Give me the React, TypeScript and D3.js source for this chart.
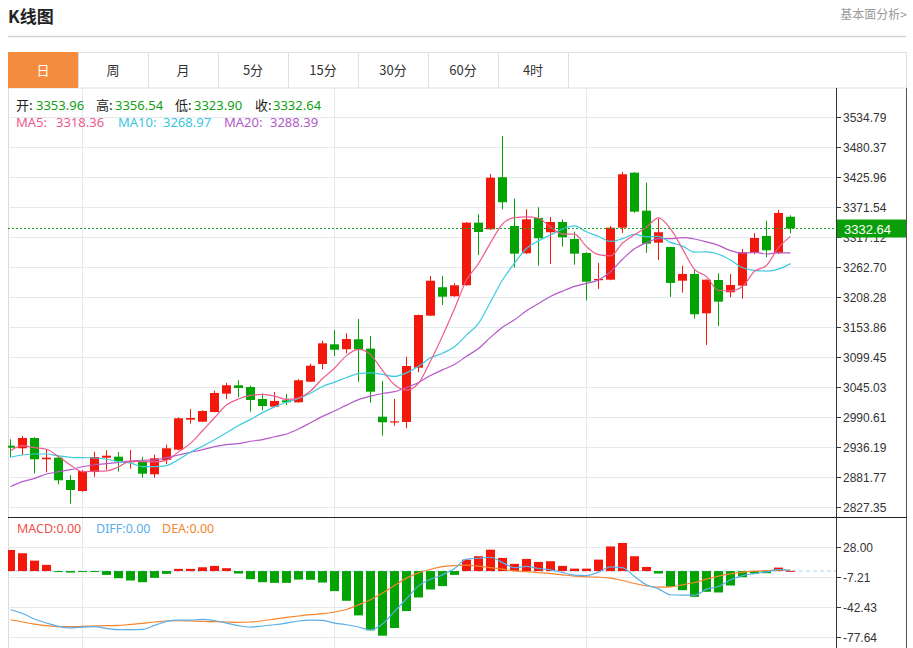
import { useEffect, useRef } from "react";
import * as d3 from "d3";

// daily candles (66 days)
const opens = [
  2939.0, 2934.3, 2953.0, 2914.4, 2917.3, 2876.8, 2856.9, 2891.3, 2917.3, 2919.1,
  2908.9, 2910.0, 2887.2, 2913.1, 2931.8, 2986.2, 2982.5, 3000.1, 3033.3, 3048.5,
  3045.4, 3023.7, 3009.7, 3021.3, 3017.7, 3055.0, 3087.1, 3122.8, 3113.8, 3131.9,
  3114.9, 2991.6, 2981.4, 2982.0, 3080.4, 3174.7, 3226.2, 3209.9, 3229.8, 3343.3,
  3331.3, 3425.6, 3337.3, 3287.8, 3351.8, 3325.9, 3344.5, 3313.7, 3288.3, 3238.9,
  3239.9, 3334.2, 3433.9, 3365.0, 3307.0, 3299.2, 3238.1, 3250.3, 3179.0, 3239.4,
  3217.1, 3229.1, 3289.6, 3319.2, 3287.8, 3353.96,
];
const highs = [
  2950.6, 2956.6, 2954.2, 2932.5, 2921.6, 2885.4, 2894.9, 2928.1, 2930.7, 2927.6,
  2931.2, 2919.1, 2922.7, 2940.8, 2990.1, 3005.5, 3003.2, 3038.7, 3052.7, 3057.6,
  3047.8, 3033.3, 3036.4, 3032.7, 3059.4, 3087.7, 3129.4, 3148.8, 3142.8, 3168.7,
  3137.9, 3056.3, 3023.7, 3100.4, 3176.5, 3246.7, 3246.7, 3233.4, 3344.0, 3358.5,
  3431.6, 3500.4, 3386.8, 3367.6, 3371.2, 3353.6, 3349.4, 3327.0, 3289.6, 3270.2,
  3337.3, 3435.2, 3434.5, 3415.8, 3350.5, 3299.5, 3265.3, 3257.5, 3240.5, 3251.5,
  3250.3, 3295.6, 3324.6, 3346.9, 3366.3, 3356.54,
];
const lows = [
  2918.0, 2922.2, 2889.0, 2890.8, 2869.0, 2833.9, 2855.5, 2882.8, 2895.5, 2891.9,
  2897.3, 2881.0, 2881.0, 2905.8, 2931.0, 2978.9, 2982.0, 2999.5, 3023.7, 3026.8,
  3000.7, 3003.2, 3008.6, 3012.8, 3017.0, 3054.5, 3077.5, 3101.6, 3106.5, 3055.0,
  3017.0, 2957.1, 2975.3, 2970.6, 3072.1, 3174.0, 3194.1, 3209.0, 3229.0, 3284.7,
  3330.0, 3367.6, 3261.7, 3287.0, 3265.3, 3268.4, 3299.8, 3267.1, 3202.6, 3223.1,
  3238.9, 3324.6, 3361.4, 3288.9, 3275.7, 3208.6, 3216.4, 3169.2, 3121.6, 3156.0,
  3208.0, 3205.5, 3286.0, 3280.5, 3286.5, 3323.9,
];
const closes = [
  2935.4, 2953.0, 2914.4, 2917.3, 2876.3, 2858.7, 2893.1, 2918.5, 2920.9, 2911.3,
  2911.3, 2888.3, 2916.2, 2934.3, 2988.7, 2989.2, 3001.9, 3034.6, 3048.5, 3043.6,
  3021.9, 3011.0, 3020.1, 3017.7, 3057.6, 3084.0, 3124.6, 3113.0, 3132.4, 3113.8,
  3036.9, 2981.4, 2983.2, 3083.5, 3175.9, 3238.1, 3209.1, 3229.8, 3343.3, 3326.4,
  3424.8, 3380.3, 3287.1, 3349.4, 3315.0, 3344.5, 3316.8, 3287.1, 3236.3, 3241.2,
  3334.2, 3431.0, 3363.2, 3305.2, 3325.9, 3234.0, 3250.3, 3177.2, 3239.9, 3200.1,
  3230.3, 3289.6, 3315.5, 3293.2, 3360.9, 3332.64,
];

const ma5 = [
  2930.0, 2939.0, 2935.4, 2932.5, 2919.3, 2903.9, 2892.0, 2892.8, 2893.5, 2900.5,
  2911.0, 2910.1, 2909.6, 2912.3, 2927.8, 2943.3, 2966.1, 2989.7, 3012.6, 3023.6,
  3030.1, 3031.9, 3029.0, 3022.9, 3025.7, 3038.1, 3060.8, 3079.4, 3102.3, 3113.6,
  3104.1, 3075.5, 3049.5, 3039.8, 3052.2, 3092.4, 3138.0, 3187.3, 3239.2, 3269.3,
  3306.7, 3340.9, 3352.4, 3353.6, 3351.3, 3335.3, 3322.6, 3322.6, 3299.9, 3285.2,
  3283.1, 3306.0, 3321.2, 3335.0, 3351.9, 3331.9, 3295.7, 3258.5, 3245.5, 3220.3,
  3219.6, 3227.4, 3255.1, 3265.7, 3297.9, 3318.36,
];
const ma10 = [
  2918.0, 2922.2, 2924.0, 2924.0, 2920.4, 2918.0, 2917.3, 2916.7, 2914.4, 2909.9,
  2907.5, 2901.0, 2901.2, 2902.9, 2914.1, 2927.2, 2938.1, 2949.7, 2962.4, 2975.7,
  2986.7, 2999.0, 3009.4, 3017.7, 3024.6, 3034.1, 3046.4, 3054.2, 3062.6, 3069.6,
  3071.1, 3068.2, 3064.5, 3071.0, 3082.9, 3098.3, 3106.7, 3118.4, 3139.5, 3160.8,
  3199.6, 3239.4, 3269.8, 3296.4, 3310.3, 3321.0, 3331.7, 3337.5, 3326.8, 3318.3,
  3309.2, 3314.3, 3321.9, 3317.5, 3318.5, 3307.5, 3300.8, 3289.9, 3290.2, 3286.1,
  3275.7, 3261.6, 3256.8, 3255.6, 3259.1, 3268.97,
];
const ma20 = [
  2864.7, 2873.8, 2879.9, 2887.7, 2891.9, 2895.5, 2900.9, 2904.5, 2906.4, 2908.9,
  2911.3, 2912.6, 2913.1, 2917.3, 2922.2, 2927.1, 2931.8, 2937.2, 2940.8, 2942.8,
  2947.1, 2950.0, 2955.3, 2960.3, 2969.4, 2980.6, 2992.2, 3001.9, 3012.5, 3022.6,
  3028.9, 3033.6, 3036.9, 3044.4, 3053.7, 3066.2, 3076.5, 3086.3, 3101.0, 3115.2,
  3135.3, 3153.8, 3167.1, 3183.7, 3196.6, 3209.6, 3219.2, 3227.9, 3233.1, 3239.5,
  3254.4, 3276.9, 3295.9, 3306.9, 3314.4, 3314.2, 3316.3, 3313.7, 3308.5, 3302.2,
  3292.5, 3287.9, 3289.3, 3286.5, 3288.8, 3288.39,
];

const macdBars = [
  24.9, 21.0, 12.3, 7.3, -0.5, -1.8, -0.3, -0.5, -4.5, -8.4,
  -11.1, -13.1, -8.0, -3.3, 2.6, 2.6, 4.5, 6.1, 3.4, -2.9,
  -9.5, -13.1, -13.9, -13.9, -10.0, -10.3, -13.5, -23.6, -35.0, -52.2,
  -69.8, -76.1, -67.0, -47.1, -31.1, -21.7, -17.7, -4.5, 13.5, 17.5,
  25.2, 15.5, 8.5, 14.3, 10.8, 11.6, 6.1, 2.9, 2.9, 13.5,
  29.0, 33.1, 17.5, 4.9, -2.9, -18.5, -22.5, -30.3, -24.4, -25.2,
  -17.0, -7.2, -2.9, -2.5, 4.1, 0.3,
];
const diffLine = [
  -45.5, -49.9, -56.5, -61.2, -65.1, -67.0, -65.9, -65.5, -67.5, -69.0,
  -69.0, -68.6, -64.0, -59.3, -57.7, -57.7, -56.9, -58.5, -61.2, -64.3,
  -65.9, -64.7, -63.2, -61.2, -58.8, -57.7, -58.1, -61.2, -63.2, -65.9,
  -69.4, -62.4, -47.5, -32.6, -17.4, -9.5, -4.5, 3.0, 14.0, 15.1,
  16.3, 10.0, 4.0, 5.5, 3.0, 1.5, -1.8, -4.8, -5.3, -1.3,
  4.9, 4.1, -6.4, -16.2, -20.9, -27.9, -28.3, -28.3, -21.3, -18.2,
  -10.3, -5.3, -2.9, -0.9, 1.8, 0.6,
];
const deaLine = [
  -57.3, -60.0, -62.4, -64.3, -65.5, -65.5, -65.1, -64.7, -64.3, -64.0,
  -62.8, -61.6, -60.0, -58.8, -58.5, -58.8, -59.3, -59.6, -60.0, -60.4,
  -60.0, -58.5, -56.5, -54.6, -52.9, -51.4, -50.2, -48.2, -45.2, -39.7,
  -33.8, -25.9, -17.0, -8.3, -2.1, 2.2, 5.3, 6.5, 6.9, 5.8,
  4.1, 2.2, 0.2, -0.6, -1.8, -2.9, -4.5, -6.0, -6.8, -7.2,
  -8.3, -11.1, -14.6, -17.4, -18.9, -18.5, -16.2, -13.5, -9.5, -6.0,
  -3.3, -1.3, -0.1, 0.6, 1.4, 1.1,
];

const priceTicks = [
  3534.79, 3480.37, 3425.96, 3371.54, 3317.12, 3262.7, 3208.28,
  3153.86, 3099.45, 3045.03, 2990.61, 2936.19, 2881.77, 2827.35,
];
const macdTicks = [28.0, -7.21, -42.43, -77.64];
const monthStarts = [6, 27, 48];
const tabs = ["日", "周", "月", "5分", "15分", "30分", "60分", "4时"];

const UP = "#f2190c";
const DOWN = "#03a303";
const FONT = '"Noto Sans", "Noto Sans CJK SC", sans-serif';
const CJK = '"Noto Sans CJK SC", "Noto Sans", sans-serif';
const AXIS_FONT = '"Liberation Sans", Arial, sans-serif';

const LEFT = 8;
const RIGHT = 836;
const PRICE_TOP = 88;
const PRICE_BOTTOM = 517;
const MACD_BOTTOM = 648;

export default function App() {
  const svgRef = useRef<SVGSVGElement>(null);

  useEffect(() => {
    if (!svgRef.current) return;
    const svg = d3.select(svgRef.current);
    svg.selectAll("*").remove();

    const n = closes.length;
    const x = d3.scaleLinear().domain([0, n - 1]).range([10.5, 790.5]);
    const y = d3.scaleLinear().domain([2827.35, 3534.79]).range([507.3, 117]);
    const ym = d3.scaleLinear().domain([-77.64, 28.0]).range([637, 547.3]);

    const defs = svg.append("defs");
    defs.append("clipPath").attr("id", "clip-price")
      .append("rect").attr("x", LEFT).attr("y", PRICE_TOP)
      .attr("width", RIGHT - LEFT).attr("height", PRICE_BOTTOM - PRICE_TOP);
    defs.append("clipPath").attr("id", "clip-macd")
      .append("rect").attr("x", LEFT).attr("y", PRICE_BOTTOM)
      .attr("width", RIGHT - LEFT).attr("height", MACD_BOTTOM - PRICE_BOTTOM);

    // header
    svg.append("text").attr("x", 8).attr("y", 23).text("K线图")
      .attr("font-family", CJK).attr("font-size", 17).attr("font-weight", "bold").attr("fill", "#222");
    svg.append("text").attr("x", 907).attr("y", 19).attr("text-anchor", "end").text("基本面分析>")
      .attr("font-family", CJK).attr("font-size", 12).attr("fill", "#9a9a9a");
    svg.append("line").attr("x1", 8).attr("x2", 906).attr("y1", 36.5).attr("y2", 36.5)
      .attr("stroke", "#d2d2d2").attr("stroke-width", 1.5);

    // tabs
    const tabW = 70;
    svg.append("rect").attr("x", 8.5).attr("y", 52.5).attr("width", 898).attr("height", 35.5)
      .attr("fill", "#fff").attr("stroke", "#e0e0e0");
    tabs.forEach((t, i) => {
      const tx = 8 + i * tabW;
      if (i === 0) {
        svg.append("rect").attr("x", tx).attr("y", 52).attr("width", tabW).attr("height", 36)
          .attr("fill", "#f38c3e");
      }
      svg.append("line").attr("x1", tx + tabW + 0.5).attr("x2", tx + tabW + 0.5)
        .attr("y1", 52).attr("y2", 88).attr("stroke", "#e0e0e0");
      svg.append("text").attr("x", tx + tabW / 2).attr("y", 75).attr("text-anchor", "middle")
        .text(t).attr("font-family", CJK).attr("font-size", 13)
        .attr("fill", i === 0 ? "#fff" : "#333");
    });

    // frame
    svg.append("line").attr("x1", 8.5).attr("x2", 8.5).attr("y1", 88).attr("y2", MACD_BOTTOM)
      .attr("stroke", "#dcdcdc");
    svg.append("line").attr("x1", 906.5).attr("x2", 906.5).attr("y1", 88).attr("y2", MACD_BOTTOM)
      .attr("stroke", "#555");

    // grid
    const grid = svg.append("g").attr("stroke", "#e3e9ef").attr("stroke-width", 1);
    priceTicks.forEach((v) => {
      const yy = Math.round(y(v)) + 0.5;
      grid.append("line").attr("x1", LEFT).attr("x2", RIGHT).attr("y1", yy).attr("y2", yy);
    });
    macdTicks.forEach((v) => {
      const yy = Math.round(ym(v)) + 0.5;
      grid.append("line").attr("x1", LEFT).attr("x2", RIGHT).attr("y1", yy).attr("y2", yy);
    });
    monthStarts.forEach((i) => {
      grid.append("line").attr("x1", x(i)).attr("x2", x(i)).attr("y1", PRICE_TOP).attr("y2", MACD_BOTTOM);
    });

    // candles
    const cg = svg.append("g").attr("clip-path", "url(#clip-price)");
    closes.forEach((c, i) => {
      const o = opens[i];
      const col = c >= o ? UP : DOWN;
      cg.append("line").attr("x1", x(i)).attr("x2", x(i))
        .attr("y1", y(highs[i])).attr("y2", y(lows[i])).attr("stroke", col);
      const top = y(Math.max(o, c));
      const h = Math.max(1.2, Math.abs(y(o) - y(c)));
      cg.append("rect").attr("x", x(i) - 4.5).attr("y", top).attr("width", 9).attr("height", h)
        .attr("fill", col);
    });

    const maLine = d3.line<number>().x((_, i) => x(i)).y((d) => y(d)).curve(d3.curveMonotoneX);
    [
      { data: ma20, color: "#b659c9" },
      { data: ma10, color: "#3ccbdf" },
      { data: ma5, color: "#ee5d8d" },
    ].forEach((s) => {
      cg.append("path").datum(s.data).attr("d", maLine).attr("fill", "none")
        .attr("stroke", s.color).attr("stroke-width", 1.2);
    });

    const last = closes[n - 1];
    cg.append("line").attr("x1", LEFT).attr("x2", RIGHT).attr("y1", y(last)).attr("y2", y(last))
      .attr("stroke", "#1ba31b").attr("stroke-dasharray", "2,2");

    // MACD pane
    const mg = svg.append("g").attr("clip-path", "url(#clip-macd)");
    mg.append("line").attr("x1", LEFT).attr("x2", RIGHT).attr("y1", ym(0)).attr("y2", ym(0))
      .attr("stroke", "#a9d4f0").attr("stroke-dasharray", "4,3");
    macdBars.forEach((v, i) => {
      const y0 = ym(0);
      const y1 = ym(v);
      mg.append("rect").attr("x", x(i) - 4.5).attr("y", Math.min(y0, y1)).attr("width", 9)
        .attr("height", Math.max(1, Math.abs(y1 - y0))).attr("fill", v >= 0 ? UP : DOWN);
    });
    const mLine = d3.line<number>().x((_, i) => x(i)).y((d) => ym(d)).curve(d3.curveMonotoneX);
    mg.append("path").datum(deaLine).attr("d", mLine).attr("fill", "none")
      .attr("stroke", "#f5842f").attr("stroke-width", 1.2);
    mg.append("path").datum(diffLine).attr("d", mLine).attr("fill", "none")
      .attr("stroke", "#5aaeea").attr("stroke-width", 1.2);

    // axes
    svg.append("line").attr("x1", RIGHT + 0.5).attr("x2", RIGHT + 0.5).attr("y1", PRICE_TOP).attr("y2", MACD_BOTTOM)
      .attr("stroke", "#333");
    svg.append("line").attr("x1", LEFT).attr("x2", 907).attr("y1", PRICE_BOTTOM + 0.5).attr("y2", PRICE_BOTTOM + 0.5)
      .attr("stroke", "#222");
    const ax = svg.append("g").attr("font-family", AXIS_FONT).attr("font-size", 12).attr("fill", "#333");
    priceTicks.forEach((v) => {
      const yy = Math.round(y(v)) + 0.5;
      ax.append("line").attr("x1", RIGHT).attr("x2", RIGHT + 5).attr("y1", yy).attr("y2", yy).attr("stroke", "#333");
      ax.append("text").attr("x", RIGHT + 7).attr("y", yy + 4.5).text(v.toFixed(2));
    });
    macdTicks.forEach((v) => {
      const yy = Math.round(ym(v)) + 0.5;
      ax.append("line").attr("x1", RIGHT).attr("x2", RIGHT + 5).attr("y1", yy).attr("y2", yy).attr("stroke", "#333");
      ax.append("text").attr("x", RIGHT + 7).attr("y", yy + 4.5).text(v.toFixed(2));
    });

    // last price tag (covers the lower half of the 3317.12 label, as in the source)
    const ly = y(last);
    svg.append("rect").attr("x", RIGHT + 1).attr("y", ly - 9).attr("width", 69).attr("height", 18)
      .attr("fill", "#0a9f0a");
    svg.append("text").attr("x", RIGHT + 8).attr("y", ly + 5).text(last.toFixed(2))
      .attr("font-family", AXIS_FONT).attr("font-size", 13).attr("fill", "#fff");

    // legends
    const lg = svg.append("g").attr("font-family", FONT).attr("font-size", 13);
    const ohlc = [
      { label: "开:", value: opens[n - 1], lx: 16, vx: 36 },
      { label: "高:", value: highs[n - 1], lx: 96, vx: 115 },
      { label: "低:", value: lows[n - 1], lx: 175, vx: 194 },
      { label: "收:", value: last, lx: 255, vx: 273 },
    ];
    ohlc.forEach((d) => {
      lg.append("text").attr("x", d.lx).attr("y", 110).text(d.label).attr("fill", "#222")
        .attr("font-family", CJK);
      lg.append("text").attr("x", d.vx).attr("y", 110).text(d.value.toFixed(2)).attr("fill", "#12a012");
    });
    [
      { label: "MA5:", value: ma5[n - 1], lx: 16, vx: 56, color: "#ef5b8c" },
      { label: "MA10:", value: ma10[n - 1], lx: 118, vx: 163, color: "#38c6dc" },
      { label: "MA20:", value: ma20[n - 1], lx: 224, vx: 270, color: "#b35bc9" },
    ].forEach((d) => {
      lg.append("text").attr("x", d.lx).attr("y", 127).attr("fill", d.color).text(d.label);
      lg.append("text").attr("x", d.vx).attr("y", 127).attr("fill", d.color).text(d.value.toFixed(2));
    });
    [
      { label: "MACD:0.00", lx: 17, color: "#f2504a" },
      { label: "DIFF:0.00", lx: 96, color: "#5aaeea" },
      { label: "DEA:0.00", lx: 162, color: "#f5842f" },
    ].forEach((d) => {
      lg.append("text").attr("x", d.lx).attr("y", 533).attr("fill", d.color).attr("font-size", 12.5).text(d.label);
    });
  }, []);

  return (
    <svg
      ref={svgRef}
      width={913}
      height={648}
      style={{ position: "absolute", left: 0, top: 0, background: "#fff" }}
    />
  );
}
